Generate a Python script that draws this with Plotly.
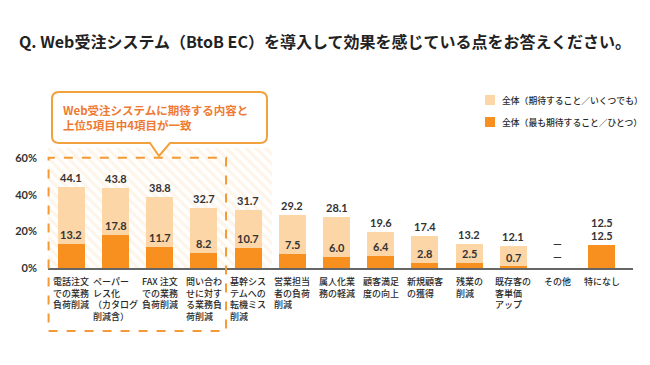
import plotly.graph_objects as go

categories = [
    "電話注文<br>での業務<br>負荷削減",
    "ペーパー<br>レス化<br>（カタログ<br>削減含）",
    "FAX 注文<br>での業務<br>負荷削減",
    "問い合わ<br>せに対す<br>る業務負<br>荷削減",
    "基幹シス<br>テムへの<br>転機ミス<br>削減",
    "営業担当<br>者の負荷<br>削減",
    "属人化業<br>務の軽減",
    "顧客満足<br>度の向上",
    "新規顧客<br>の獲得",
    "残業の<br>削減",
    "既存客の<br>客単価<br>アップ",
    "その他",
    "特になし",
]
expect_any = [44.1, 43.8, 38.8, 32.7, 31.7, 29.2, 28.1, 19.6, 17.4, 13.2, 12.1, 0, 12.5]
expect_most = [13.2, 17.8, 11.7, 8.2, 10.7, 7.5, 6.0, 6.4, 2.8, 2.5, 0.7, 0, 12.5]
missing = [False] * 11 + [True, False]
y_ticks = [0, 20, 40, 60]
y_tick_text = ["0%", "20%", "40%", "60%"]
series_names = ["全体（期待すること／いくつでも）", "全体（最も期待すること／ひとつ）"]
title_text = "Q. Web受注システム（BtoB EC）を導入して効果を感じている点をお答えください。"
callout_lines = ["Web受注システムに期待する内容と", "上位5項目中4項目が一致"]

LIGHT = "#fdd6a8"
DARK = "#f7901e"
TXT = "#333333"
series_colors = [LIGHT, DARK]

W, H = 650, 365
ML, MR, MT, MB = 48, 17, 148, 97
PW, PH = W - ML - MR, H - MT - MB
XR = [-0.53, 12.71]
YR = [0, 65.6]

def xp(v):  # data x -> paper
    return (v - XR[0]) / (XR[1] - XR[0])

def px2x(p):  # pixel x -> paper
    return (p - ML) / PW

def px2y(p):  # pixel y -> paper
    return (H - MB - p) / PH

x = list(range(len(categories)))
fig = go.Figure()

# hatched background behind top-5 items
top5_lo, top5_hi = XR[0], 4.54
fig.add_trace(go.Bar(
    x=[(top5_lo + top5_hi) / 2], y=[YR[1]], width=[top5_hi - top5_lo],
    marker=dict(color="white", line_width=0,
                pattern=dict(shape="\\", fgcolor="#fde9d2", bgcolor="white", size=7, solidity=0.45)),
    showlegend=False, hoverinfo="skip"))

fig.add_trace(go.Bar(x=x, y=expect_any, name=series_names[0], width=0.61,
                     marker=dict(color=LIGHT, line_width=0), showlegend=False))
fig.add_trace(go.Bar(x=x, y=expect_most, name=series_names[1], width=0.61,
                     marker=dict(color=DARK, line_width=0), showlegend=False))

ann = []
shapes = []
lab_font = dict(family="Lato, Noto Sans CJK JP", size=11, color=TXT, weight="bold")
for i in x:
    la, da = expect_any[i], expect_most[i]
    ta = "—" if missing[i] else f"{la:.1f}"
    td = "—" if missing[i] else f"{da:.1f}"
    d_shift = 3 if missing[i] else 1
    ann.append(dict(x=i, y=da, xref="x", yref="y", text=td, showarrow=False,
                    yanchor="bottom", yshift=d_shift, font=lab_font))
    if la - da < 4:
        ann.append(dict(x=i, y=da, xref="x", yref="y", text=ta, showarrow=False,
                        yanchor="bottom", yshift=d_shift + 13, font=lab_font))
    else:
        ann.append(dict(x=i, y=la, xref="x", yref="y", text=ta, showarrow=False,
                        yanchor="bottom", yshift=1, font=lab_font))
    # category labels
    ann.append(dict(x=i, y=px2y(273), xref="x", yref="paper", text=categories[i],
                    showarrow=False, xanchor="center", yanchor="top", align="left",
                    font=dict(family="Noto Sans CJK JP", size=9, color="#2a2a2a", weight=500)))

# legend (drawn manually for exact placement)
for k, (name, col) in enumerate(zip(series_names, series_colors)):
    cy = 100 + 22 * k
    shapes.append(dict(type="rect", xref="paper", yref="paper",
                       x0=px2x(485), x1=px2x(495), y0=px2y(cy + 5), y1=px2y(cy - 5),
                       fillcolor=col, line_width=0))
    ann.append(dict(x=px2x(500), y=px2y(cy), xref="paper", yref="paper", text=name,
                    showarrow=False, xanchor="left", yanchor="middle",
                    font=dict(family="Noto Sans CJK JP", size=8.8, color="#2a2a2a", weight=500)))

# callout text
ann.append(dict(x=px2x(61), y=px2y(117), xref="paper", yref="paper",
                text="<br>".join(callout_lines), showarrow=False, xanchor="left",
                yanchor="middle", align="left",
                font=dict(family="Noto Sans CJK JP", size=11.5, color="#ee7a34", weight="bold")))

# dashed box around top 4
shapes.append(dict(type="rect", xref="paper", yref="paper",
                   x0=xp(XR[0]) + 0.001, x1=xp(3.5), y0=px2y(331), y1=px2y(157.7),
                   line=dict(color="#f39a35", width=2, dash="dash"), layer="above"))
# callout bubble path
l, r, t, b, rad = 52, 267, 92, 143, 7
bx0, bx1, tipx, tipy = 150, 170, 159, 156
pts = (f"M {px2x(l+rad)},{px2y(t)} L {px2x(r-rad)},{px2y(t)} "
       f"Q {px2x(r)},{px2y(t)} {px2x(r)},{px2y(t+rad)} "
       f"L {px2x(r)},{px2y(b-rad)} Q {px2x(r)},{px2y(b)} {px2x(r-rad)},{px2y(b)} "
       f"L {px2x(bx1)},{px2y(b)} L {px2x(tipx)},{px2y(tipy)} L {px2x(bx0)},{px2y(b)} "
       f"L {px2x(l+rad)},{px2y(b)} Q {px2x(l)},{px2y(b)} {px2x(l)},{px2y(b-rad)} "
       f"L {px2x(l)},{px2y(t+rad)} Q {px2x(l)},{px2y(t)} {px2x(l+rad)},{px2y(t)} Z")
shapes.append(dict(type="path", xref="paper", yref="paper", path=pts,
                   fillcolor="white", line=dict(color="#f2a23c", width=2), layer="above"))

fig.update_layout(
    width=W, height=H, margin=dict(l=ML, r=MR, t=MT, b=MB, autoexpand=False),
    paper_bgcolor="white", plot_bgcolor="white",
    barmode="overlay", bargap=0, showlegend=False,
    title=dict(text=title_text, x=0.5, xref="container", xanchor="center",
               y=1 - 42 / H, yref="container", yanchor="middle",
               font=dict(family="Noto Sans CJK JP", size=16, color="#222222", weight="bold")),
    xaxis=dict(range=XR, showticklabels=False, showgrid=False, zeroline=False,
               showline=True, linecolor="#666666", linewidth=2, ticks=""),
    yaxis=dict(range=YR, tickvals=y_ticks, ticktext=y_tick_text, showgrid=False,
               zeroline=False, showline=False, ticks="", ticklabelstandoff=10,
               tickfont=dict(family="Lato, Noto Sans CJK JP", size=11, color=TXT, weight="bold")),
    annotations=ann, shapes=shapes,
)
fig.write_html("out.html", config={"displayModeBar": False},
               post_script="document.body.style.margin='0';document.body.style.padding='0';")
